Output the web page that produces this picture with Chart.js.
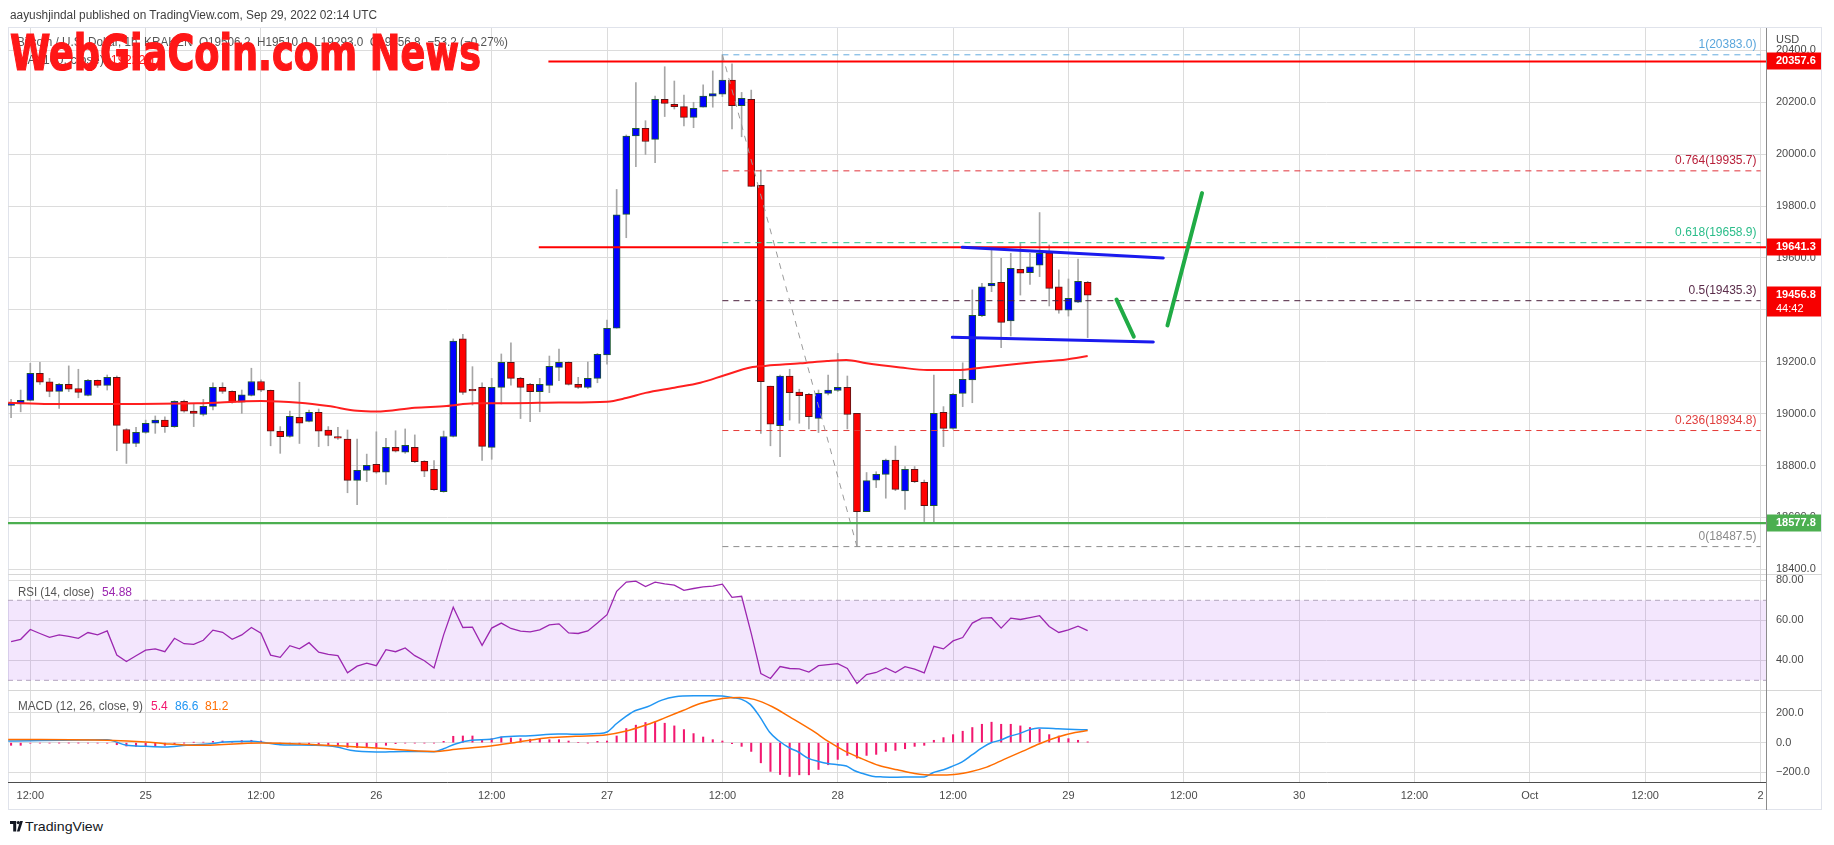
<!DOCTYPE html>
<html><head><meta charset="utf-8">
<script src="https://cdn.jsdelivr.net/npm/chart.js@4.4.1/dist/chart.umd.min.js"></script>
<style>
html,body{margin:0;padding:0;background:#fff;}
#wrap{position:relative;width:1834px;height:845px;overflow:hidden;font-family:"Liberation Sans",Arial,sans-serif;}
canvas{position:absolute;left:0;}
.t{position:absolute;white-space:nowrap;transform-origin:0 50%;}
.ln{position:absolute;}
</style></head><body>
<div id="wrap">
  <div class="ln" style="left:8px;top:27px;width:1814px;height:783px;border:1px solid #e0e3eb;box-sizing:border-box"></div>
  <canvas id="cMain" width="1834" height="574" style="top:0"></canvas>
  <canvas id="cRsi" width="1834" height="116" style="top:574px"></canvas>
  <canvas id="cMacd" width="1834" height="120" style="top:690px"></canvas>
  <div class="ln" style="left:8px;top:574px;width:1814px;height:1px;background:#d6d6d6"></div>
  <div class="ln" style="left:8px;top:690px;width:1814px;height:1px;background:#d6d6d6"></div>
  <div class="ln" style="left:1766px;top:28px;width:1px;height:782px;background:#8c8c8c"></div>

  <div class="t" id="hdr" style="left:10px;top:7px;font-size:12.5px;line-height:16px;color:#3e3e3e">aayushjindal published on TradingView.com, Sep 29, 2022 02:14 UTC</div>
  <div class="t" id="leg1" style="left:17px;top:34px;font-size:12.5px;line-height:16px;color:#555">Bitcoin / U.S. Dollar, 1h, KRAKEN&nbsp; O19506.2&nbsp; H19510.0&nbsp; L19293.0&nbsp; C19456.8&nbsp; −53.2 (−0.27%)</div>
  <div class="t" id="leg2" style="left:17px;top:52px;font-size:12.5px;line-height:16px;color:#555">MA (100, close)&nbsp; <span style="color:#ff1a1a">19222.1</span></div>
  <div class="t" id="wm" style="left:10px;top:29px;font-family:'DejaVu Sans Condensed','DejaVu Sans',sans-serif;font-weight:bold;font-size:49px;line-height:49px;color:#ff1717;-webkit-text-stroke:1.2px #ff1717">WebGiaCoin.com News</div>
  <div class="t" id="usd" style="left:1776px;top:32px;font-size:11px;line-height:15px;color:#4a4a4a">USD</div>

  <div class="t" id="rsiLbl" style="left:18px;top:584px;font-size:12px;line-height:16px;color:#555">RSI (14, close)</div>
  <div class="t" id="rsiVal" style="left:102px;top:584px;font-size:12px;line-height:16px;color:#9c27b0">54.88</div>

  <div class="t" id="macdLbl" style="left:17.5px;top:698px;font-size:12px;line-height:16px;color:#555">MACD (12, 26, close, 9)</div>
  <div class="t" id="macdH" style="left:151px;top:698px;font-size:12px;line-height:16px;color:#f2186f">5.4</div>
  <div class="t" id="macdM" style="left:175px;top:698px;font-size:12px;line-height:16px;color:#2196f3">86.6</div>
  <div class="t" id="macdS" style="left:205px;top:698px;font-size:12px;line-height:16px;color:#ff6d00">81.2</div>

  <svg style="position:absolute;left:10px;top:821px" width="13" height="11" viewBox="0 0 13 11">
    <path d="M0 0h6.2v10.5h-3v-7.5H0z" fill="#131722"/>
    <circle cx="8.3" cy="1.6" r="1.6" fill="#131722"/>
    <path d="M9.6 10.5L12.9 0H10.1L6.9 10.5z" fill="#131722"/>
  </svg>
  <div class="t" id="tvTxt" style="left:25px;top:818px;font-size:13.5px;line-height:17px;color:#131722">TradingView</div>
</div>
<script>
// ---------------- DATA ----------------
// hours are offsets from 24 Sep 2022 12:00 UTC; candles are 1h
const firstHour = -2;
const opens = [19032,19037,19051,19155,19123,19086,19113,19097,19070,19128,19109,
19140,18939,18885,18928,18963,18975,18950,19047,19010,18997,
19028,19101,19086,19044,19070,19124,19090,18932,18912,18986,
18970,19005,18937,18912,18902,18743,18781,18805,18774,18870,
18851,18870,18816,18785,18699,18912,19288,19094,19101,18870,
19101,19198,19136,19113,19085,19109,19178,19198,19113,19101,
19136,19226,19329,19768,20070,20100,20057,20211,20192,20183,
20142,20181,20224,20231,20286,20187,20211,19880,19106,18954,
19145,19083,19074,18982,19078,19089,19101,19001,18622,18744,
18766,18821,18702,18785,18735,18645,19005,18943,19078,19130,
19378,19492,19506,19357,19556,19543,19572,19620,19489,19399,
19430,19506.2];
const highs = [19055,19091,19194,19198,19136,19117,19184,19171,19132,19130,19149,
19145,18942,18947,18975,18991,18988,19050,19052,19037,19055,
19119,19119,19088,19091,19175,19130,19091,18950,19010,19121,
19014,19018,18950,18947,18937,18902,18844,18930,18905,18934,
18941,18918,18819,18819,18933,19288,19306,19181,19119,19136,
19230,19273,19140,19117,19136,19222,19249,19200,19140,19199,
19232,19361,19864,20074,20276,20129,20224,20337,20282,20228,
20200,20267,20321,20383,20348,20238,20247,19939,19106,19149,
19171,19094,19078,19091,19149,19232,19145,19001,18773,18776,
18825,18875,18796,18796,18744,19149,19027,19078,19196,19477,
19502,19631,19599,19618,19656,19618,19775,19650,19554,19519,
19596,19510.0];
const lows = [18984,19007,19049,19113,19065,19020,19085,19061,19068,19101,19091,
18857,18808,18873,18924,18924,18928,18947,19006,18950,18991,
19014,19078,19040,19001,19068,19085,18876,18847,18909,18885,
18968,18873,18876,18901,18695,18649,18738,18770,18727,18852,
18847,18811,18757,18704,18697,18910,19074,19033,18820,18824,
19037,19110,18981,18969,19007,19081,19127,19110,19097,19097,
19119,19191,19329,19678,19952,19999,19967,20145,20174,20109,
20102,20181,20181,20222,20097,20067,19876,18924,18876,18834,
18975,18963,18941,18927,19072,19085,18941,18487.5,18622,18715,
18674,18703,18631,18734,18584,18584,18873,18940,19027,19042,
19374,19470,19254,19299,19457,19498,19528,19415,19387,19376,
19428,19293.0];
const closes = [19040,19051,19155,19121,19086,19113,19094,19082,19128,19109,19140,
18955,18885,18928,18963,18975,18950,19047,19009,19001,19028,
19101,19086,19044,19072,19124,19090,18932,18911,18990,18963,
19005,18932,18916,18905,18743,18781,18801,18774,18870,18855,
18878,18815,18778,18707,18912,19280,19082,19088,18874,19101,
19198,19136,19101,19085,19113,19182,19198,19113,19101,19136,
19229,19329,19766,20070,20100,20049,20211,20196,20183,20142,
20177,20224,20234,20286,20187,20215,19876,19123,18959,19145,
19081,19069,18988,19078,19091,19101,18997,18622,18742,18766,
18821,18708,18785,18738,18645,19001,18943,19074,19132,19379,
19489,19502,19352,19560,19541,19566,19618,19483,19399,19444,
19510,19456.8];

const maHours = [-2.3,2,9,17.4,24,28,31,34,36,40,43.3,46.2,50.3,55,60,62,64,67,69.7,72.3,74.9,76.6,80.1,82.9,84.9,87,90.5,93.3,96.4,99.1,101.6,104.4,107.8,110];
const maValues = [19042,19037,19037,19040,19049,19042,19029,19011,19008,19023,19029,19040,19040,19043,19046,19060,19080,19100,19119,19149,19178,19185,19194,19203,19207,19194,19178,19168,19168,19178,19187,19198,19209,19222];

const rsiValues = [49.3,50.5,55.4,53.4,51.5,52.7,52.0,51.0,53.9,52.7,54.7,
42.6,39.4,42.3,45.1,45.7,44.3,51.0,48.3,48.0,50.0,
55.1,54.0,50.5,52.7,56.4,53.5,42.6,41.5,47.3,45.7,
48.8,44.1,43.0,42.3,33.7,37.1,38.6,37.3,45.3,44.3,
46.2,42.3,39.8,36.2,52.7,66.5,56.4,56.6,47.5,56.1,
58.6,55.9,54.6,54.2,55.2,57.7,58.2,53.7,53.4,54.7,
58.6,62.8,74.5,79.1,79.6,76.9,79.1,78.2,77.6,75.0,
75.9,76.7,77.1,78.1,71.5,72.0,53.5,33.4,30.9,36.9,
35.9,35.7,34.1,37.3,37.8,38.3,35.9,28.4,32.9,33.9,
36.2,33.9,36.8,35.6,33.7,47.0,45.7,49.7,51.4,58.6,
61.1,61.3,56.1,61.1,60.4,61.3,62.3,56.9,53.9,55.2,
57.1,54.88];
const rsiUpper = 70, rsiLower = 30;

const macdHist = [-18,-18,-4,-3,-3,-2,-2,-2,-3,-3,-4,
-14,-23,-25,-27,-23,-18,-7,-2,2,3,
9,11,9,14,16,11,-7,-14,-9,-9,
-7,-14,-18,-23,-32,-34,-32,-36,-18,-7,
-3,-3,-3,-3,9,43,45,45,16,27,
38,32,27,23,23,20,20,11,0,-2,
9,11,45,95,118,136,140,131,113,88,
61,38,20,11,-7,-25,-59,-136,-194,-215,
-228,-217,-217,-181,-149,-113,-86,-104,-86,-79,
-59,-52,-41,-25,-18,16,34,54,77,102,
124,138,124,124,113,102,90,54,45,27,
16,5.4];
const macdHours = [-2.3,8,10,12,14,16.2,18.7,20.2,23.1,24,26,29.7,31.9,33.3,36,38.8,42,43,44.3,45.9,47.9,49,52,54.9,56.7,59,60,61,61.9,62.9,64.2,65.7,67.1,69,70.9,72,73.1,74,74.9,75.9,76.9,77.8,79,79.9,80.9,82,83.1,84,84.9,85.7,86.7,87.6,88.7,90.2,91.7,93,93.9,95,95.9,96.9,98,99,99.9,100.9,101.9,102.9,103.9,104.9,105.9,106.9,108,110];
const macdValues = [11,20,-18,-25,-29,-18,-7,4.5,9,4.5,-14,-18,-29,-52,-63,-59,-61,-41,-7,16,23,38,47,59,56,61,72,129,174,215,242,287,310,316,316,314,303,292,258,174,72,16,-36,-63,-104,-127,-142,-149,-158,-188,-210,-226,-231,-233,-231,-231,-203,-183,-160,-131,-81,-36,-2,16,43,61,86,99,97,93,90,86.6];
const signalHours = [-2.3,8,12,14,17.3,24,29.7,32.9,36,42,44.3,47.9,50.8,54.1,56.7,60,61.9,64.2,66,67.9,69.7,72,73.8,75.3,77.2,79,81.3,83.1,84.6,86.5,88.3,90.2,92,93.9,95.7,97.6,99.5,101.3,103.2,105,106.9,108.7,110];
const signalValues = [22,16,4.5,-7,-18,-2,-14,-25,-36,-59,-45,-23,4.5,34,43,54,77,122,167,217,264,298,305,292,242,174,84,4.5,-52,-108,-154,-183,-208,-219,-217,-199,-165,-113,-59,-7,38,68,81.2];

const tickHours = [0,12,24,36,48,60,72,84,96,108,120,132,144,156,168,180];
const xTickLabels = ['12:00','25','12:00','26','12:00','27','12:00','28','12:00','29','12:00','30','12:00','Oct','12:00','2'];
const priceTicks = [18400,18600,18800,19000,19200,19400,19600,19800,20000,20200,20400];
const rsiTicks = [40,60,80];
const macdTicks = [-200,0,200];

// drawings
const fibStartHour = 72, fibEndHour = 180;
const fibRatioLabels = ['1','0.764','0.618','0.5','0.236','0'];
const fibLevels = [20383.0,19935.7,19658.9,19435.3,18934.8,18487.5];
const fibSwing = [[72,20383.0],[86,18487.5]];
const resistanceLevels = [20357.6, 19641.3];
const resistanceStartHours = [53.9, 52.9];
const supportLevel = 18577.8;
const blueUpper = [[96.96,19641],[117.87,19600]];
const blueLower = [[95.92,19294],[116.83,19276]];
const greenDown = [[113.0,19440],[114.8,19297]];
const greenUp = [[118.3,19340],[121.9,19850]];
const countdown = '44:42';

// ---------------- STYLE ----------------
const FONT = '"Liberation Sans", Arial, sans-serif';
const GRID = '#dcdcdc';
const X_MIN = -2.32, X_MAX = 180.57;
const UP_FILL = '#0000ff', UP_EDGE = '#1f5a32', DN_FILL = '#ff0000', DN_EDGE = '#5e1414', WICK = '#a6a6a6';
const fibLineColors = ['#64acdf','#e0333a','#2fc491','#4a1f3c','#e53935','#8d8d8d'];
const fibTextColors = ['#5aa6dc','#b8203a','#2bbd8a','#5b2d4b','#e0403f','#8a8a8a'];

const pts = (xs, ys) => xs.map((x, i) => ({x, y: ys[i]}));
const candleHours = opens.map((_, i) => firstHour + i);
const isUp = closes.map((c, i) => c >= opens[i]);

function zeroPad(s){ s.paddingTop = 0; s.paddingBottom = 0; s.paddingLeft = 0; s.paddingRight = 0; }
function xAxis(showLabels){
  return {
    type:'linear', min:X_MIN, max:X_MAX, offset:false,
    afterBuildTicks: s => { s.ticks = tickHours.map(v => ({value:v})); },
    grid:{color:GRID, drawTicks:false, offset:false},
    border:{display:showLabels, color:'#4d4d4d', width:1},
    ticks:{display:showLabels, autoSkip:false, maxRotation:0, padding:7, color:'#4a4a4a',
      font:{family:FONT, size:11}, callback:(v, i) => xTickLabels[i]},
    afterFit: s => { s.height = showLabels ? 28 : 0; zeroPad(s); }
  };
}
function yAxis(min, max, ticks, fmt){
  return {
    type:'linear', position:'right', min, max,
    afterBuildTicks: s => { s.ticks = ticks.map(v => ({value:v})); },
    grid:{color:GRID, drawTicks:false},
    border:{display:false},
    ticks:{padding:10, color:'#4a4a4a', font:{family:FONT, size:11}, callback: fmt, autoSkip:false},
    afterFit: s => { s.width = 56; zeroPad(s); }
  };
}
const common = {
  responsive:false, animation:false, events:[],
  plugins:{legend:{display:false}, tooltip:{enabled:false}}
};
const lineDs = (data, color, width, extra) => Object.assign({type:'line', data, borderColor:color, borderWidth:width, pointRadius:0, fill:false, tension:0}, extra || {});

// ---------------- MAIN PANE ----------------
const mainDatasets = [
  {type:'bar', data: candleHours.map((x,i)=>({x, y:[opens[i], closes[i]]})),
   backgroundColor: isUp.map(u => u ? UP_FILL : DN_FILL), borderColor: isUp.map(u => u ? UP_EDGE : DN_EDGE),
   borderWidth:1, borderSkipped:false, barThickness:7, minBarLength:1, grouped:false, order:1},
  {type:'bar', data: candleHours.map((x,i)=>({x, y:[lows[i], highs[i]]})),
   backgroundColor: WICK, borderWidth:0, barThickness:1, grouped:false, order:2},
  lineDs(pts(maHours, maValues), '#ff1f1f', 2, {cubicInterpolationMode:'monotone', order:0}),
  lineDs(fibSwing.map(p=>({x:p[0], y:p[1]})), '#9a9a9a', 1, {borderDash:[6,6], order:-1})
];
fibLevels.forEach((v, i) => mainDatasets.push(lineDs([{x:fibStartHour, y:v},{x:fibEndHour, y:v}], fibLineColors[i], 1, {borderDash:[6,5], order:-1})));
resistanceLevels.forEach((v, i) => mainDatasets.push(lineDs([{x:resistanceStartHours[i], y:v},{x:X_MAX, y:v}], '#ff0000', 2, {order:-2})));
mainDatasets.push(lineDs([{x:X_MIN, y:supportLevel},{x:X_MAX, y:supportLevel}], '#4caf50', 2.2, {order:-2}));
[blueUpper, blueLower].forEach(seg => mainDatasets.push(lineDs(seg.map(p=>({x:p[0], y:p[1]})), '#1a1aee', 3, {order:-3, borderCapStyle:'round'})));
[greenDown, greenUp].forEach(seg => mainDatasets.push(lineDs(seg.map(p=>({x:p[0], y:p[1]})), '#20ab45', 4, {order:-3, borderCapStyle:'round'})));

const overlayPlugin = {
  id:'overlay',
  afterDraw(chart){
    const {ctx, scales:{x, y}, chartArea} = chart;
    ctx.save();
    ctx.font = '12px ' + FONT;
    ctx.textAlign = 'right'; ctx.textBaseline = 'middle';
    fibLevels.forEach((v, i) => {
      ctx.fillStyle = fibTextColors[i];
      ctx.fillText(fibRatioLabels[i] + '(' + v.toFixed(1) + ')', x.getPixelForValue(fibEndHour) - 4, y.getPixelForValue(v) - 10);
    });
    const L = chartArea.right + 1, W = 54;
    const box = (v, fill) => {
      const py = y.getPixelForValue(v);
      ctx.fillStyle = fill; ctx.fillRect(L, Math.round(py) - 8.5, W, 17);
      ctx.fillStyle = '#fff'; ctx.font = 'bold 11px ' + FONT; ctx.textAlign = 'left';
      ctx.fillText(v.toFixed(1), L + 9, py);
    };
    resistanceLevels.forEach(v => box(v, '#f70000'));
    box(supportLevel, '#4caf50');
    const last = closes[closes.length - 1];
    const py = y.getPixelForValue(last);
    ctx.fillStyle = '#f70000'; ctx.fillRect(L, Math.round(py) - 8.5, W, 30);
    ctx.fillStyle = '#fff'; ctx.font = 'bold 11px ' + FONT; ctx.textAlign = 'left';
    ctx.fillText(last.toFixed(1), L + 9, py);
    ctx.font = '11px ' + FONT;
    ctx.fillText(countdown, L + 9, py + 14);
    ctx.restore();
  }
};

new Chart(document.getElementById('cMain'), {
  type:'bar',
  data:{datasets: mainDatasets},
  options: Object.assign({}, common, {
    layout:{padding:{left:8, right:12, top:28, bottom:0}},
    scales:{x: xAxis(false), y: yAxis(18381.9, 20486.3, priceTicks, v => v.toFixed(1))}
  }),
  plugins:[overlayPlugin]
});

// ---------------- RSI PANE ----------------
new Chart(document.getElementById('cRsi'), {
  type:'line',
  data:{datasets:[
    lineDs(pts(candleHours, rsiValues), '#9c27b0', 1.3, {order:0}),
    lineDs([{x:X_MIN, y:rsiUpper},{x:X_MAX, y:rsiUpper}], '#b3a7bd', 1, {borderDash:[5,4], fill:'+1', backgroundColor:'rgba(155,47,238,0.12)', order:1}),
    lineDs([{x:X_MIN, y:rsiLower},{x:X_MAX, y:rsiLower}], '#b3a7bd', 1, {borderDash:[5,4], order:2})
  ]},
  options: Object.assign({}, common, {
    layout:{padding:{left:8, right:12, top:0, bottom:0}},
    scales:{x: xAxis(false), y: yAxis(25.15, 83.15, rsiTicks, v => v.toFixed(2))}
  })
});

// ---------------- MACD PANE ----------------
new Chart(document.getElementById('cMacd'), {
  type:'bar',
  data:{datasets:[
    {type:'bar', data: pts(candleHours, macdHist), backgroundColor:'#f2186f', barThickness:1.4, grouped:false, order:2},
    lineDs(pts(macdHours, macdValues), '#2196f3', 1.5, {cubicInterpolationMode:'monotone', order:1}),
    lineDs(pts(signalHours, signalValues), '#ff6d00', 1.5, {cubicInterpolationMode:'monotone', order:0})
  ]},
  options: Object.assign({}, common, {
    layout:{padding:{left:8, right:12, top:0, bottom:0}},
    scales:{x: xAxis(true), y: yAxis(-265.4, 355.1, macdTicks, v => (v < 0 ? '−' : '') + Math.abs(v).toFixed(1))}
  })
});

// ---------------- text fitting ----------------
function fitW(id, w){
  const el = document.getElementById(id);
  el.style.transform = 'none';
  const cur = el.getBoundingClientRect().width;
  if (cur > 0) el.style.transform = 'scaleX(' + (w / cur) + ')';
}
function fitAll(){
  fitW('hdr', 367);
  fitW('leg1', 491);
  fitW('wm', 471);
  fitW('rsiLbl', 76);
  fitW('macdLbl', 125);
  fitW('tvTxt', 78);
}
fitAll();
if (document.fonts && document.fonts.ready) document.fonts.ready.then(fitAll);
</script>
</body></html>
